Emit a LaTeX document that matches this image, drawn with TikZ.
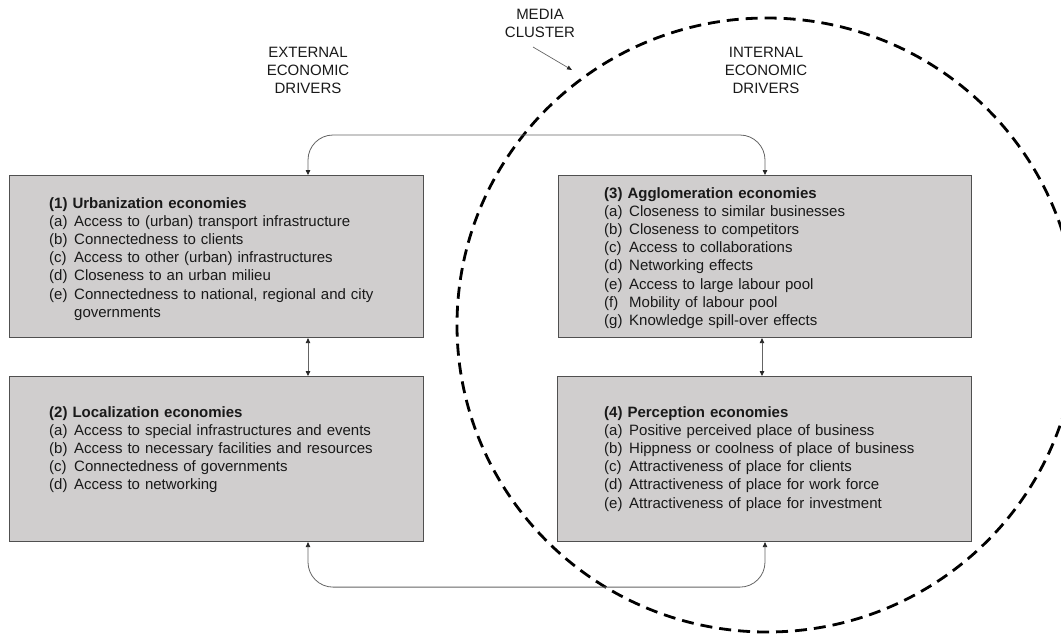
\documentclass[tikz,border=0pt]{standalone}
\usepackage{fontspec}
\setmainfont{Liberation Sans}
\usetikzlibrary{calc,arrows.meta}
\definecolor{boxfill}{RGB}{208,206,206}
\definecolor{boxline}{RGB}{80,80,80}
\definecolor{txt}{RGB}{25,25,25}
\definecolor{conncol}{RGB}{100,100,100}
\newcommand{\itm}[2]{\makebox[25pt][l]{#1}#2}
\begin{document}
\begin{tikzpicture}[x=1pt,y=-1pt,
  box/.style={draw=boxline, fill=boxfill, line width=1.1pt, anchor=north west, inner sep=0pt},
  boxtext/.style={anchor=base west, inner sep=0pt, text width=420pt, align=left, text=txt, font=\fontsize{15}{18.2}\selectfont},
  lbl/.style={anchor=base, inner sep=0pt, text width=150pt, align=center, text=txt, font=\fontsize{15}{18}\selectfont},
  tip/.style={Triangle[length=5pt,width=4.5pt,color=black!85]},
  conn/.style={draw=conncol, line width=0.8pt, {Triangle[length=5pt,width=4.5pt,color=black!85]}-{Triangle[length=5pt,width=4.5pt,color=black!85]}},
  ]
\useasboundingbox (0,0) rectangle (1061,633);
\clip (0,0) rectangle (1061,633);

% boxes
\node[box, minimum width=414pt, minimum height=162pt] (box1) at (9,175) {};
\node[box, minimum width=414pt, minimum height=165pt] (box2) at (9,376) {};
\node[box, minimum width=413pt, minimum height=162pt] (box3) at (558,175) {};
\node[box, minimum width=414pt, minimum height=165pt] (box4) at (557,376) {};

% texts
\node[boxtext] (t1) at (49,208) {\textbf{(1) Urbanization economies}\\
\itm{(a)}{Access to (urban) transport infrastructure}\\
\itm{(b)}{Connectedness to clients}\\
\itm{(c)}{Access to other (urban) infrastructures}\\
\itm{(d)}{Closeness to an urban milieu}\\
\itm{(e)}{Connectedness to national, regional and city}\\
\itm{}{governments}};

\node[boxtext] (t2) at (49,417) {\textbf{(2) Localization economies}\\
\itm{(a)}{Access to special infrastructures and events}\\
\itm{(b)}{Access to necessary facilities and resources}\\
\itm{(c)}{Connectedness of governments}\\
\itm{(d)}{Access to networking}};

\node[boxtext] (t3) at (604,198) {\textbf{(3) Agglomeration economies}\\
\itm{(a)}{Closeness to similar businesses}\\
\itm{(b)}{Closeness to competitors}\\
\itm{(c)}{Access to collaborations}\\
\itm{(d)}{Networking effects}\\
\itm{(e)}{Access to large labour pool}\\
\itm{(f)}{Mobility of labour pool}\\
\itm{(g)}{Knowledge spill-over effects}};

\node[boxtext] (t4) at (604,417) {\textbf{(4) Perception economies}\\
\itm{(a)}{Positive perceived place of business}\\
\itm{(b)}{Hippness or coolness of place of business}\\
\itm{(c)}{Attractiveness of place for clients}\\
\itm{(d)}{Attractiveness of place for work force}\\
\itm{(e)}{Attractiveness of place for investment}};

% labels
\node[lbl] (ext) at (308,57) {EXTERNAL\\ECONOMIC\\DRIVERS};
\node[lbl] (int) at (766,57) {INTERNAL\\ECONOMIC\\DRIVERS};
\node[lbl] (media) at (540,19) {MEDIA\\CLUSTER};

% media cluster circle
\draw[line width=2.8pt, dash pattern=on 12pt off 7pt] (767,325) ellipse [x radius=310pt, y radius=307pt];

% media arrow
\coordinate (ma) at (533,47);
\coordinate (mb) at (572,70);
\draw[draw=conncol, line width=0.7pt, -{Triangle[length=5pt,width=4pt,color=black!85]}] (ma) -- (mb);

% connectors
\coordinate (p1) at ($(box1.north west)+(299,0)$);
\coordinate (p3) at ($(box3.north west)+(207,0)$);
\draw[conn, rounded corners=25pt] (p1) -- ++(0,-40) -| (p3);

\coordinate (q2) at ($(box2.south west)+(299,0)$);
\coordinate (q4) at ($(box4.south west)+(208,0)$);
\draw[conn, rounded corners=25pt] (q2) -- ++(0,45) -| (q4);

\coordinate (v1) at ($(box1.south west)+(299,0)$);
\coordinate (v2) at ($(box2.north west)+(299,0)$);
\draw[conn] (v1) -- (v2);

\coordinate (v3) at ($(box3.south west)+(204,0)$);
\coordinate (v4) at ($(box4.north west)+(205,0)$);
\draw[conn] (v3) -- (v4);
\end{tikzpicture}
\end{document}
